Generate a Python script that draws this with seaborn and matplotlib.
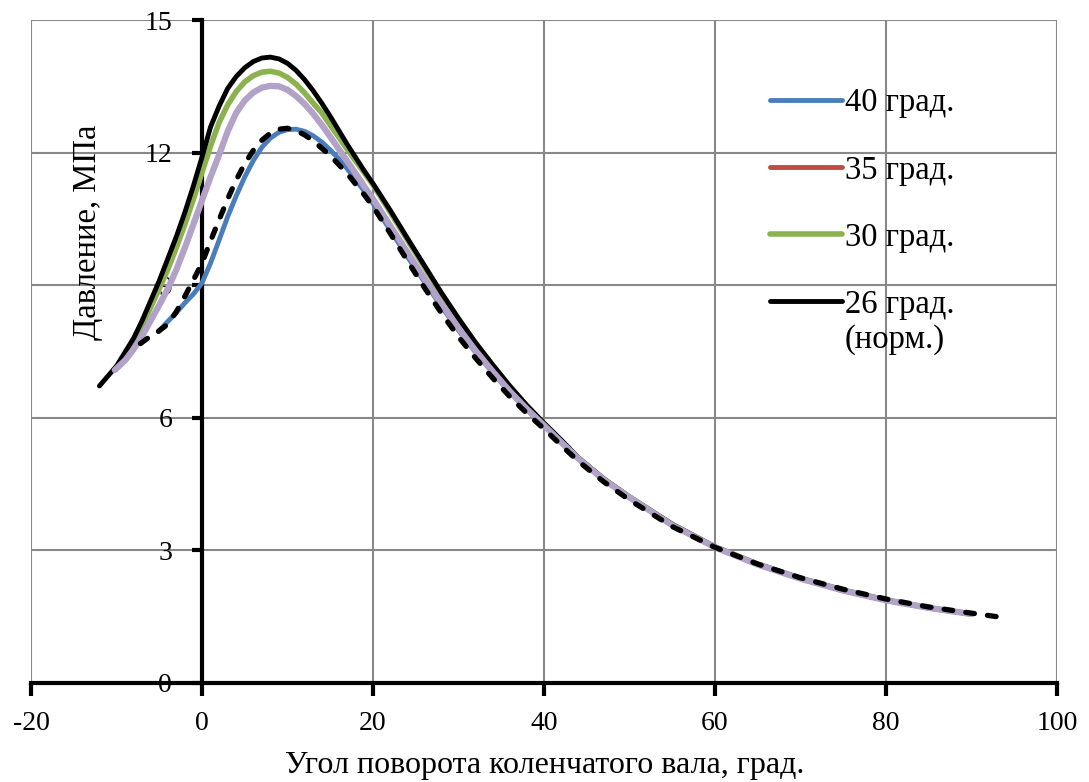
import matplotlib
matplotlib.use("Agg")
import matplotlib.pyplot as plt
import seaborn as sns

# ---------------- data ----------------
x_40 = [-5.1, -4, -3, -2, -1, 0, 1, 2, 3, 4, 5, 6, 7, 8, 9, 10, 11, 12, 13, 14, 15, 16, 17,
        18, 19, 20, 22, 24, 26, 28, 30, 32, 34, 36, 38, 40, 42, 44, 47, 50, 55, 60, 65, 70,
        75, 80, 85, 90]
y_40 = [7.95, 8.18, 8.38, 8.6, 8.8, 9.05, 9.5, 10.02, 10.55, 11.02, 11.45, 11.82, 12.12, 12.33,
        12.46, 12.52, 12.53, 12.48, 12.38, 12.24, 12.06, 11.86, 11.63,
        11.38, 11.12, 10.85, 10.25, 9.65, 9.08, 8.52, 7.98, 7.48, 7.02, 6.58, 6.18, 5.82, 5.44,
        5.07, 4.6, 4.2, 3.57, 3.07, 2.68, 2.36, 2.09, 1.87, 1.7, 1.56]

x_35 = [-10.2, -9, -8, -7, -6, -5, -4, -3, -2, -1, 0, 1, 2, 3, 4, 5, 6, 7, 8, 9, 10, 11, 12,
        13, 14, 15, 16, 17, 18, 19, 20, 22, 24, 26, 28, 30, 32, 34, 36, 38, 40, 42, 44, 47,
        50, 55, 60, 65, 70, 75, 80, 85, 90]
y_35 = [7.08, 7.3, 7.55, 7.85, 8.2, 8.55, 8.92, 9.35, 9.85, 10.38, 10.92, 11.45, 11.95, 12.48,
        12.9, 13.18, 13.36, 13.47, 13.51, 13.5, 13.42, 13.28, 13.1,
        12.88, 12.63, 12.36, 12.08, 11.8, 11.52, 11.23, 10.95, 10.35, 9.75, 9.15, 8.58, 8.03,
        7.52, 7.05, 6.6, 6.2, 5.83, 5.45, 5.08, 4.6,
        4.2, 3.57, 3.07, 2.68, 2.36, 2.09, 1.87, 1.7, 1.56]

x_30 = [-10.3, -9, -8, -7, -6, -5, -4, -3, -2, -1, 0, 1, 2, 3, 4, 5, 6, 7, 8, 9, 10, 11, 12,
        13, 14, 15, 16, 17, 18, 19, 20, 22, 24, 26, 28, 30, 32, 34, 36, 38, 40, 42, 44, 47,
        50, 55, 60, 65, 70, 75, 80, 85, 90]
y_30 = [7.08, 7.4, 7.7, 8.08, 8.5, 8.92, 9.36, 9.85, 10.38, 10.95, 11.55, 12.15, 12.68, 13.08,
        13.38, 13.6, 13.74, 13.82, 13.84, 13.8, 13.7, 13.55, 13.35,
        13.12, 12.9, 12.62, 12.35, 12.07, 11.8, 11.54, 11.27, 10.66, 10.03, 9.41, 8.8, 8.22,
        7.68, 7.18, 6.71, 6.27, 5.87, 5.49, 5.09, 4.61,
        4.21, 3.59, 3.08, 2.69, 2.37, 2.1, 1.88, 1.7, 1.56]

x_26 = [-12, -10, -8, -7, -6, -5, -4, -3, -2, -1, 0, 1, 2, 3, 4, 5, 6, 7, 8, 9, 10, 11, 12,
        13, 14, 15, 16, 17, 18, 19, 20, 22, 24, 26, 28, 30, 32, 34, 36, 38, 40, 42, 44, 47,
        50, 55, 60, 65, 70, 75, 80, 85, 90]
y_26 = [6.72, 7.17, 7.8, 8.2, 8.65, 9.1, 9.6, 10.1, 10.65, 11.25, 11.9, 12.58, 13.05, 13.45,
        13.72, 13.92, 14.06, 14.14, 14.16, 14.12, 14.02, 13.86, 13.65,
        13.4, 13.12, 12.82, 12.5, 12.18, 11.88, 11.58, 11.3, 10.7, 10.07, 9.45, 8.83, 8.25,
        7.7, 7.2, 6.72, 6.28, 5.88, 5.5, 5.1, 4.62,
        4.21, 3.59, 3.08, 2.69, 2.37, 2.1, 1.88, 1.7, 1.56]

x_extra = x_35
y_extra = y_35

x_dash = [-7.2, -6, -5, -4, -3, -2, -1, 0, 1, 2, 3, 4, 5, 6, 7, 8, 9, 10, 11, 12, 13, 14, 15,
          16, 17, 18, 19, 20, 22, 24, 26, 28, 30, 32, 34, 36, 38, 40, 42, 44, 47, 50, 55, 60,
          65, 70, 75, 80, 85, 90, 93]
y_dash = [7.68, 7.85, 7.97, 8.12, 8.4, 8.75, 9.12, 9.5, 10.0, 10.48, 10.95, 11.38, 11.75,
          12.05, 12.28, 12.44, 12.53, 12.55, 12.5, 12.4, 12.27, 12.1, 11.93,
          11.73, 11.52, 11.28, 11.04, 10.78, 10.18, 9.56, 8.95, 8.37, 7.83, 7.35, 6.9, 6.48,
          6.1, 5.75, 5.38, 5.02, 4.55, 4.14, 3.54, 3.07,
          2.69, 2.38, 2.12, 1.9, 1.72, 1.58, 1.5]

labels = ["40 град.", "35 град.", "30 град.", "26 град."]
label_note = "(норм.)"
x_ticks = [-20, 0, 20, 40, 60, 80, 100]
y_ticks = [0, 3, 6, 9, 12, 15]
x_label = "Угол поворота коленчатого вала, град."
y_label = "Давление, МПа"

# ---------------- style ----------------
sns.set_theme(style="white")
plt.rcParams["font.family"] = ["Liberation Serif", "DejaVu Serif"]
FS_TICK = 20
FS = 23.5

W, H = 1089, 782
fig = plt.figure(figsize=(W / 100, H / 100), dpi=100)
ax = fig.add_axes([31 / W, 1 - 683 / H, (1057 - 31) / W, (683 - 20) / H])

kw = dict(estimator=None, sort=False, ax=ax, legend=False)
sns.lineplot(x=x_40, y=y_40, color="#4A7EBB", linewidth=3.5, **kw)
sns.lineplot(x=x_35, y=y_35, color="#BE4B48", linewidth=3.5, **kw)
sns.lineplot(x=x_30, y=y_30, color="#8CB14F", linewidth=4.0, **kw)
sns.lineplot(x=x_26, y=y_26, color="black", linewidth=3.5, **kw)
sns.lineplot(x=x_extra, y=y_extra, color="#B3A2C8", linewidth=4.5, **kw)
sns.lineplot(x=x_dash, y=y_dash, color="black", linewidth=3.8,
             linestyle=(0, (1.65, 2.5)), **kw)
for ln in ax.lines:
    ln.set_solid_capstyle("round")
    ln.set_dash_capstyle("round")

ax.set_xlim(-20, 100)
ax.set_ylim(0, 15)
ax.set_xticks(x_ticks)
ax.set_yticks(y_ticks)
ax.set_xticklabels([str(v) for v in x_ticks])
ax.set_yticklabels([str(v) for v in y_ticks])
ax.set_xlabel("")
ax.set_ylabel("")

ax.grid(True, color="#888888", linewidth=1.5)
ax.set_axisbelow(True)

ax.spines["left"].set_position(("data", 0))
ax.spines["bottom"].set_position(("data", 0))
ax.spines["top"].set_visible(False)
ax.spines["right"].set_visible(False)
for s in ("left", "bottom"):
    ax.spines[s].set_color("black")
    ax.spines[s].set_linewidth(3.0)
    ax.spines[s].set_zorder(1.5)

ax.tick_params(axis="x", direction="out", length=9, width=3, color="black",
               pad=11, bottom=True, labelsize=FS_TICK, labelcolor="black")
ax.tick_params(axis="y", direction="out", length=7.5, width=3, color="black",
               pad=14, left=True, labelsize=FS_TICK, labelcolor="black")

handles = ax.lines[:4]
leg = ax.legend(handles, labels, loc="upper left",
                bbox_to_anchor=(770 / W, 1 - 88 / H), bbox_transform=fig.transFigure,
                frameon=False, fontsize=FS, handlelength=2.2, handletextpad=0.1,
                labelspacing=1.12, borderpad=0, borderaxespad=0)
for t in leg.get_texts():
    t.set_color("black")

fig.text(845 / W, 1 - 340 / H, label_note, ha="left", va="center",
         fontsize=FS, color="black")
fig.text(88 / W, 1 - 232 / H, y_label, rotation=90, ha="center", va="center",
         fontsize=FS, color="black")
fig.text(545 / W, 1 - 766 / H, x_label, ha="center", va="center",
         fontsize=23, color="black")

fig.savefig("out.png", dpi=100, facecolor="white")
